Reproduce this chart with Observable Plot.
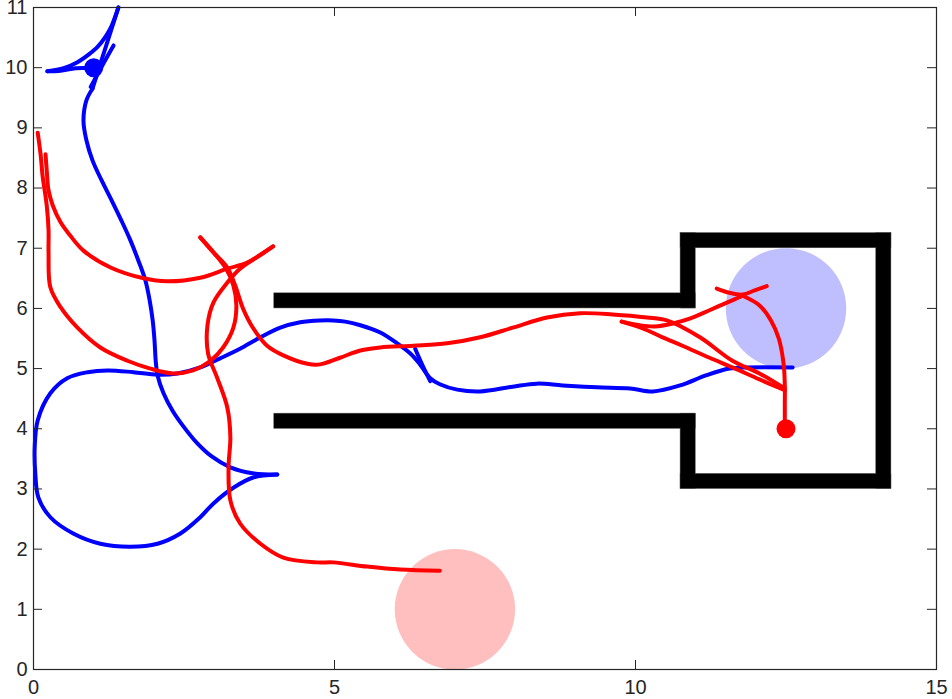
<!DOCTYPE html>
<html><head><meta charset="utf-8">
<script src="https://cdn.jsdelivr.net/npm/d3@7"></script>
<script src="https://cdn.jsdelivr.net/npm/@observablehq/plot@0.6"></script>
<style>
  html, body { margin: 0; padding: 0; background: #fff; }
  #chart svg { display: block; }
</style>
</head><body>
<div id="chart"></div>
<script>
// ---- axis ticks ----
const xTicks = [0, 5, 10, 15];
const yTicks = [0, 1, 2, 3, 4, 5, 6, 7, 8, 9, 10, 11];

// ---- walls (rectangles: x1, x2, y1, y2) ----
const wallX1 = [4, 10.75, 10.75, 14.0, 10.75, 10.75, 4];
const wallX2 = [11, 11, 14.25, 14.25, 14.25, 11, 11];
const wallY1 = [6.0, 6.0, 7.0, 3.0, 3.0, 3.0, 4.0];
const wallY2 = [6.25, 7.25, 7.25, 7.25, 3.25, 4.25, 4.25];

// ---- goal regions ----
const goalAgent = ["blue", "red"];
const goalX = [12.5, 7];
const goalY = [6, 1];
const goalR = [1, 1];

// ---- start points ----
const startAgent = ["blue", "red"];
const startX = [1, 12.5];
const startY = [10, 4];

// ---- blue trajectory segments (between cusps) ----
const blue1 = [[1.00,10.00],[0.70,9.99],[0.45,9.95],[0.23,9.94]];
const blue2 = [[0.23,9.94],[0.50,9.99],[0.73,10.09],[0.92,10.22],[1.06,10.34],[1.20,10.52],[1.30,10.70],[1.41,11.0]];
const blue3 = [[1.41,11.0],[1.25,10.5],[1.09,10.0],[0.98,9.65]];
const blue4 = [[1.33,10.37],[1.15,10.05],[0.95,9.68]];
const blue5 = [[0.98,9.65],[0.88,9.46],[0.83,9.12],[0.88,8.79],[0.98,8.46],[1.13,8.13],[1.30,7.79],[1.46,7.46],
  [1.61,7.13],[1.74,6.80],[1.86,6.46],[1.93,6.13],[1.98,5.80],[2.01,5.47],[2.03,5.13],[2.06,4.89],[2.16,4.59],
  [2.31,4.30],[2.49,4.04],[2.71,3.77],[2.96,3.54],[3.27,3.36],[3.64,3.26],[4.05,3.24]];
const blue6 = [[4.05,3.24],[3.65,3.19],[3.32,3.02],[2.99,2.76],[2.77,2.53],[2.44,2.26],[2.06,2.09],[1.61,2.04],
  [1.11,2.09],[0.66,2.26],[0.28,2.53],[0.08,2.86],[0.03,3.26],[0.02,3.69],[0.07,4.14],[0.28,4.59],[0.56,4.84],
  [0.90,4.94],[1.23,4.97],[1.66,4.94],[2.06,4.90],[2.39,4.92],[2.77,5.02],[3.10,5.17],[3.43,5.33],[3.77,5.52],
  [4.10,5.68],[4.43,5.77],[4.76,5.80],[4.98,5.80],[5.18,5.78],[5.43,5.72],[5.76,5.60],[6.04,5.42],[6.26,5.25],
  [6.42,5.07],[6.59,4.84],[6.75,4.74],[7.04,4.65],[7.42,4.62],[7.96,4.70],[8.36,4.75],[8.79,4.72],[9.36,4.69],
  [9.91,4.67],[10.29,4.62],[10.74,4.72],[11.18,4.89],[11.56,5.00],[11.85,5.02],[12.61,5.02]];
const blue7 = [[6.34,5.33],[6.45,5.08],[6.59,4.79]];

// ---- red trajectory segments (between cusps) ----
const red1 = [[12.48,4.00],[12.48,4.39],[12.48,4.72],[12.46,5.08],[12.38,5.50],[12.25,5.80],[12.06,6.05],[11.78,6.21]];
const red2 = [[11.35,6.33],[11.56,6.26],[11.78,6.23],[11.98,6.30],[12.18,6.37]];
const red3 = [[11.78,6.21],[11.48,6.08],[11.23,5.97],[10.90,5.83],[10.62,5.75],[10.32,5.70],[10.07,5.72],[9.77,5.78]];
const red4 = [[9.77,5.78],[10.12,5.67],[10.45,5.52],[10.78,5.38],[11.23,5.18],[11.61,5.02],[12.06,4.82],[12.48,4.64]];
const red5 = [[2.77,7.18],[2.99,6.93],[3.22,6.68],[3.35,6.38],[3.48,6.00],[3.65,5.67],[3.88,5.38],[4.15,5.22],
  [4.55,5.08],[4.76,5.07],[5.09,5.18],[5.43,5.30],[5.76,5.35],[6.31,5.38],[6.87,5.42],[7.42,5.52],[7.96,5.68],
  [8.53,5.85],[9.08,5.92],[9.62,5.90],[10.19,5.85],[10.52,5.80],[11.07,5.52],[11.61,5.13],[12.06,4.92],[12.48,4.67]];
const red6 = [[0.20,8.56],[0.22,8.29],[0.25,7.96],[0.32,7.71],[0.45,7.43],[0.61,7.21],[0.83,6.96],[1.28,6.68],
  [1.83,6.50],[2.22,6.45],[2.77,6.51],[3.22,6.66],[3.55,6.76],[3.98,7.03]];
const red7 = [[2.77,7.18],[2.99,6.93],[3.20,6.66],[3.32,6.38],[3.37,6.05],[3.32,5.68],[3.15,5.35],[2.94,5.13],
  [2.65,4.97],[2.32,4.92],[1.94,5.00],[1.56,5.13],[1.11,5.35],[0.73,5.68],[0.45,6.02],[0.28,6.35],[0.25,6.91],
  [0.25,7.30],[0.22,7.71],[0.15,8.21],[0.12,8.54],[0.07,8.92]];
const red8 = [[3.98,7.03],[3.72,6.86],[3.43,6.66],[3.22,6.43],[2.99,6.10],[2.89,5.72],[2.90,5.25],[3.05,4.85],
  [3.22,4.35],[3.27,3.86],[3.24,3.36],[3.27,2.81],[3.43,2.43],[3.77,2.09],[4.15,1.86],[4.71,1.78],[4.98,1.78],
  [5.54,1.71],[6.09,1.66],[6.75,1.64]];

// ---- build tables for the library ----
const blueSegs = [blue1, blue2, blue3, blue4, blue5, blue6, blue7];
const redSegs = [red1, red2, red3, red4, red5, red6, red7, red8];
const pathRows = [];
blueSegs.forEach((s, i) => s.forEach(([x, y]) => pathRows.push({agent: "blue", seg: "b" + i, x, y})));
redSegs.forEach((s, i) => s.forEach(([x, y]) => pathRows.push({agent: "red", seg: "r" + i, x, y})));
const walls = wallX1.map((x1, i) => ({x1, x2: wallX2[i], y1: wallY1[i], y2: wallY2[i]}));
const goals = goalX.map((x, i) => ({agent: goalAgent[i], x, y: goalY[i], r: goalR[i]}));
const starts = startX.map((x, i) => ({agent: startAgent[i], x, y: startY[i]}));

const W = 952, H = 699;
const mL = 33, mR = 16, mT = 7, mB = 30;
const innerW = W - mL - mR, innerH = H - mT - mB;
const ink = "#262626";
const lineColor = {blue: "#0000ff", red: "#ff0000"};
const goalColor = {blue: "#bfbfff", red: "#ffbfbf"};
const tick = 9;

const chart = Plot.plot({
  width: W, height: H,
  marginLeft: mL, marginRight: mR, marginTop: mT, marginBottom: mB,
  style: {fontFamily: "'Liberation Sans', Arial, Helvetica, sans-serif", fontSize: "20px", color: ink, background: "#fff", overflow: "visible"},
  x: {domain: [0, 15], axis: null},
  y: {domain: [0, 11], axis: null},
  r: {type: "linear", domain: [0, 1], range: [0, innerW / 15]},
  marks: [
    Plot.dot(goals, {x: "x", y: "y", r: "r", fill: d => goalColor[d.agent], stroke: "none"}),
    Plot.rect(walls, {x1: "x1", x2: "x2", y1: "y1", y2: "y2", fill: "#000", stroke: "#555", strokeWidth: 0.6}),
    Plot.rect(walls, {x1: "x1", x2: "x2", y1: "y1", y2: "y2", fill: "#000", inset: 0.6}),
    Plot.line(pathRows, {x: "x", y: "y", z: "seg", stroke: d => lineColor[d.agent], strokeWidth: 4,
      curve: "catmull-rom", strokeLinecap: "round", strokeLinejoin: "round"}),
    Plot.dot(starts, {x: "x", y: "y", r: 9.5, fill: d => lineColor[d.agent], stroke: "none"}),
    Plot.frame({stroke: ink, strokeWidth: 1.2}),
    Plot.tickX(xTicks, {x: d => d, insetTop: innerH - tick, stroke: ink, strokeWidth: 1}),
    Plot.tickX(xTicks, {x: d => d, insetBottom: innerH - tick, stroke: ink, strokeWidth: 1}),
    Plot.tickY(yTicks, {y: d => d, insetRight: innerW - tick, stroke: ink, strokeWidth: 1}),
    Plot.tickY(yTicks, {y: d => d, insetLeft: innerW - tick, stroke: ink, strokeWidth: 1}),
    Plot.axisX(xTicks, {anchor: "bottom", tickSize: 0, tickPadding: 10, label: null, fontSize: 20, fill: ink, tickFormat: d => String(d)}),
    Plot.axisY(yTicks, {anchor: "left", tickSize: 0, tickPadding: 6, label: null, fontSize: 20, fill: ink, tickFormat: d => String(d)})
  ]
});
document.getElementById("chart").appendChild(chart);
</script>
</body></html>
